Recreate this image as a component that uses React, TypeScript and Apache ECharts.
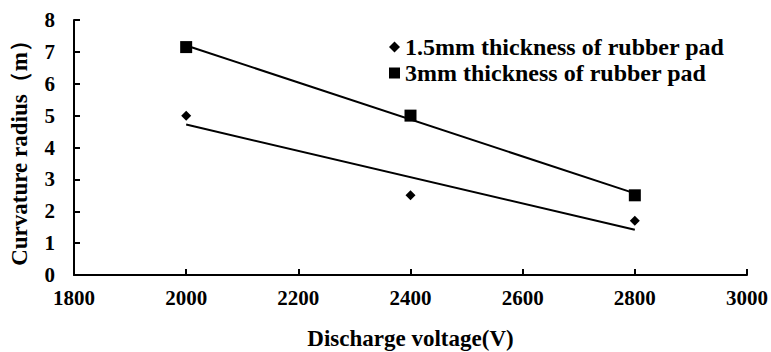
import React, { useEffect, useRef } from "react";
import * as echarts from "echarts";

const voltages = [2000, 2400, 2800];
const pad15 = [5.0, 2.5, 1.7];
const pad3 = [7.15, 5.0, 2.5];
const trendX = [2000, 2800];
const trend15 = [4.72, 1.42];
const trend3 = [7.2, 2.56];
const seriesNames = ["1.5mm thickness of rubber pad", "3mm thickness of rubber pad"];

const FONT = "Liberation Serif";

export default function App() {
  const ref = useRef<HTMLDivElement>(null);
  useEffect(() => {
    if (!ref.current) return;
    const chart = echarts.init(ref.current, undefined, { renderer: "svg" });
    const axisCommon = {
      axisLine: { show: true, lineStyle: { color: "#000", width: 2 } },
      axisTick: { show: true, inside: true, length: 6, lineStyle: { color: "#000", width: 2 } },
      splitLine: { show: false },
    };
    chart.setOption({
      animation: false,
      backgroundColor: "#fff",
      grid: { left: 74, right: 24, top: 20, bottom: 77, outerBoundsMode: "none", containLabel: false },
      legend: {
        orient: "vertical",
        left: 384,
        top: 30,
        itemWidth: 11,
        itemHeight: 11,
        itemGap: 2,
        data: [
          { name: seriesNames[0], icon: "diamond" },
          { name: seriesNames[1], icon: "rect" },
        ],
        textStyle: { fontFamily: FONT, fontWeight: "bold", fontSize: 24, color: "#000" },
      },
      xAxis: {
        type: "value",
        min: 1800,
        max: 3000,
        interval: 200,
        name: "Discharge voltage(V)",
        nameLocation: "middle",
        nameGap: 52,
        nameTextStyle: { fontFamily: FONT, fontWeight: "bold", fontSize: 23, color: "#000" },
        axisLabel: {
          fontFamily: FONT,
          fontWeight: "bold",
          fontSize: 21,
          color: "#000",
          margin: 12,
          formatter: (v: number) => String(v),
        },
        ...axisCommon,
      },
      yAxis: {
        type: "value",
        min: 0,
        max: 8,
        interval: 1,
        name: "Curvature radius（m）",
        nameLocation: "middle",
        nameGap: 43,
        nameTextStyle: { fontFamily: FONT, fontWeight: "bold", fontSize: 23, color: "#000" },
        axisLabel: {
          fontFamily: FONT,
          fontWeight: "bold",
          fontSize: 21,
          color: "#000",
          margin: 19,
          formatter: (v: number) => String(v),
        },
        ...axisCommon,
      },
      series: [
        {
          name: seriesNames[0],
          type: "scatter",
          symbol: "diamond",
          symbolSize: 10,
          itemStyle: { color: "#000", opacity: 1 },
          data: voltages.map((v, i) => [v, pad15[i]]),
        },
        {
          name: seriesNames[1],
          type: "scatter",
          symbol: "rect",
          symbolSize: 12,
          itemStyle: { color: "#000", opacity: 1 },
          data: voltages.map((v, i) => [v, pad3[i]]),
        },
        {
          name: "trend15",
          type: "line",
          symbol: "none",
          lineStyle: { color: "#000", width: 2 },
          data: trendX.map((v, i) => [v, trend15[i]]),
          z: 1,
        },
        {
          name: "trend3",
          type: "line",
          symbol: "none",
          lineStyle: { color: "#000", width: 2 },
          data: trendX.map((v, i) => [v, trend3[i]]),
          z: 1,
        },
      ],
    });
    return () => chart.dispose();
  }, []);
  return (
    <div
      ref={ref}
      style={{ position: "absolute", left: 0, top: 0, width: 771, height: 352 }}
    />
  );
}
